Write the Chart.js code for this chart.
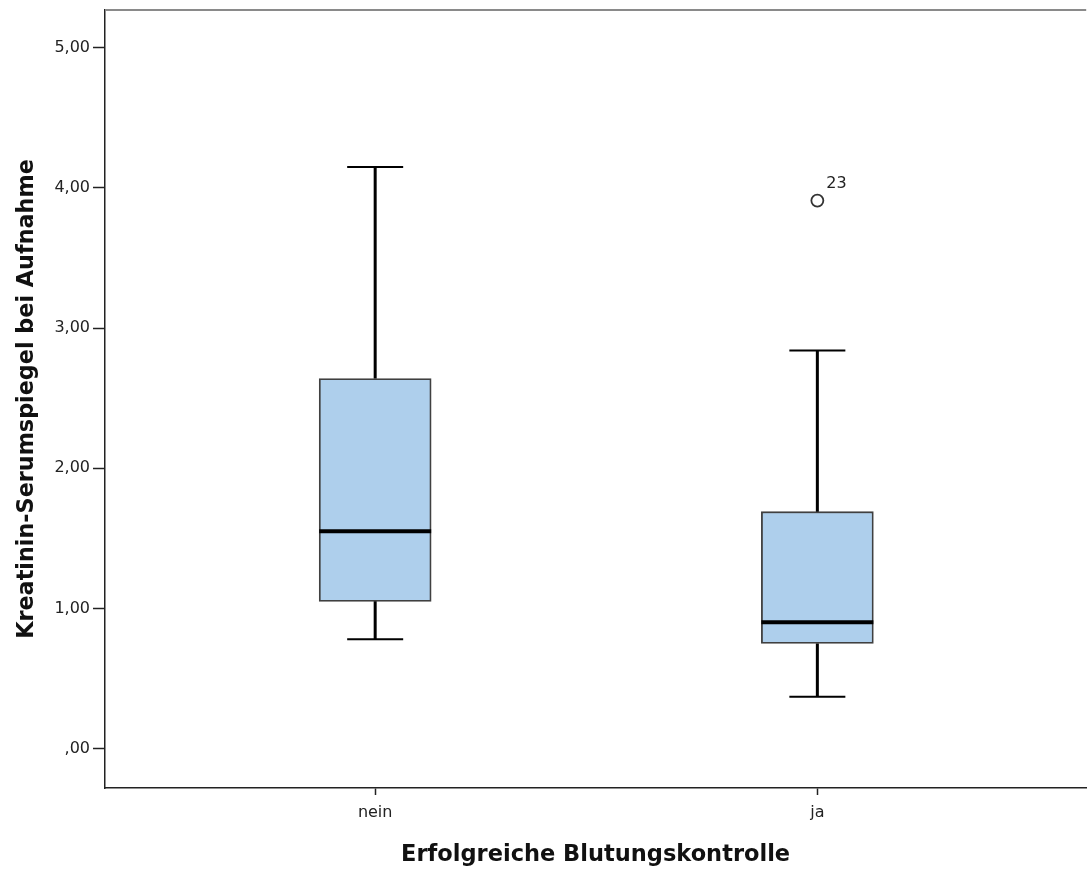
<!DOCTYPE html>
<html>
<head>
<meta charset="utf-8">
<title>Kreatinin-Serumspiegel bei Aufnahme</title>
<script src="https://cdn.jsdelivr.net/npm/chart.js@4/dist/chart.umd.min.js"></script>
<style>
  html, body { margin: 0; padding: 0; background: #ffffff; overflow: hidden; }
  canvas { display: block; }
</style>
</head>
<body>
<canvas id="chart" width="1094" height="870"></canvas>
<script>
// Groups and five-number summaries (Kreatinin in mg/dl)
const categories   = ['nein', 'ja'];
const whiskerLow   = [0.78, 0.37];
const q1           = [1.05, 0.75];
const median       = [1.55, 0.90];
const q3           = [2.64, 1.69];
const whiskerHigh  = [4.15, 2.84];

// Outliers: group, value, case number
const outlierGroup  = ['ja'];
const outlierValues = [3.91];
const outlierLabels = ['23'];

// Y axis tick values
const yTicks = [0, 1, 2, 3, 4, 5];

const FONT = '"DejaVu Sans", "Liberation Sans", Arial, sans-serif';

const boxData = categories.map((c, i) => ({ x: i + 1, y: [q1[i], q3[i]] }));
const outlierData = outlierValues.map((v, i) => ({
  x: categories.indexOf(outlierGroup[i]) + 1, y: v, label: outlierLabels[i]
}));

const fmtDe = v => v === 0 ? ',00' : v.toFixed(2).replace('.', ',');

// Whiskers, medians, outlier case numbers and the top frame line
const boxplotExtras = {
  id: 'boxplotExtras',
  afterDatasetsDraw(chart) {
    const { ctx, chartArea, scales: { x, y } } = chart;
    const boxes = chart.getDatasetMeta(0).data;
    ctx.save();
    ctx.strokeStyle = '#000000';
    ctx.lineCap = 'butt';
    categories.forEach((c, i) => {
      const bar = boxes[i];
      const cx = x.getPixelForValue(i + 1);
      const half = bar.width / 2;
      const yQ1 = y.getPixelForValue(q1[i]);
      const yQ3 = y.getPixelForValue(q3[i]);
      const yLo = y.getPixelForValue(whiskerLow[i]);
      const yHi = y.getPixelForValue(whiskerHigh[i]);
      const yMed = y.getPixelForValue(median[i]);
      // stems
      ctx.lineWidth = 3;
      ctx.beginPath();
      ctx.moveTo(cx, yQ3); ctx.lineTo(cx, yHi);
      ctx.moveTo(cx, yQ1); ctx.lineTo(cx, yLo);
      ctx.stroke();
      // caps
      ctx.lineWidth = 2;
      ctx.beginPath();
      ctx.moveTo(cx - half / 2, yHi); ctx.lineTo(cx + half / 2, yHi);
      ctx.moveTo(cx - half / 2, yLo); ctx.lineTo(cx + half / 2, yLo);
      ctx.stroke();
      // median
      ctx.lineWidth = 4;
      ctx.beginPath();
      ctx.moveTo(cx - half, yMed); ctx.lineTo(cx + half, yMed);
      ctx.stroke();
    });
    // case numbers next to outliers
    ctx.fillStyle = '#222222';
    ctx.font = '16px ' + FONT;
    ctx.textAlign = 'left';
    ctx.textBaseline = 'alphabetic';
    outlierData.forEach(p => {
      const px = x.getPixelForValue(p.x);
      const py = y.getPixelForValue(p.y);
      ctx.fillText(p.label, px + 9, py - 13);
    });
    // top frame line
    ctx.strokeStyle = '#8a8a8a';
    ctx.lineWidth = 2;
    ctx.beginPath();
    ctx.moveTo(chartArea.left, chartArea.top);
    ctx.lineTo(chartArea.right, chartArea.top);
    ctx.stroke();
    ctx.restore();
  }
};

new Chart(document.getElementById('chart'), {
  data: {
    datasets: [
      {
        type: 'bar',
        data: boxData,
        backgroundColor: '#aecfec',
        borderColor: '#404040',
        borderWidth: 1.8,
        borderSkipped: false,
        barThickness: 112
      },
      {
        type: 'scatter',
        data: outlierData,
        pointStyle: 'circle',
        pointRadius: 6,
        pointBackgroundColor: '#ffffff',
        pointBorderColor: '#333333',
        pointBorderWidth: 1.8
      }
    ]
  },
  options: {
    responsive: false,
    animation: false,
    layout: { padding: { top: 10, right: 0, left: 0, bottom: 0 } },
    plugins: {
      legend: { display: false },
      tooltip: { enabled: false }
    },
    scales: {
      x: {
        type: 'linear',
        offset: false,
        min: 0.389,
        max: 2.608,
        afterBuildTicks: s => { s.ticks = categories.map((c, i) => ({ value: i + 1 })); },
        afterFit: s => { s.height = 82; s.paddingLeft = 0; s.paddingRight = 0; },
        ticks: {
          callback: v => categories[v - 1] || '',
          color: '#222222',
          font: { family: FONT, size: 16 },
          padding: 8,
          maxRotation: 0,
          autoSkip: false
        },
        grid: { offset: false, drawOnChartArea: false, drawTicks: true, tickLength: 7, tickColor: '#222222', tickWidth: 1.5 },
        border: { display: true, color: '#222222', width: 1.5 },
        title: {
          display: true,
          text: 'Erfolgreiche Blutungskontrolle',
          color: '#111111',
          font: { family: FONT, size: 22.5, weight: 'bold' },
          padding: { top: 0, bottom: 1 }
        }
      },
      y: {
        type: 'linear',
        min: -0.282,
        max: 5.27,
        afterBuildTicks: s => { s.ticks = yTicks.map(v => ({ value: v })); },
        afterFit: s => { s.width = 105; s.paddingTop = 0; s.paddingBottom = 0; },
        ticks: {
          callback: v => fmtDe(v),
          color: '#222222',
          font: { family: FONT, size: 16 },
          padding: 3
        },
        grid: { drawOnChartArea: false, drawTicks: true, tickLength: 12, tickColor: '#222222', tickWidth: 1.5 },
        border: { display: true, color: '#222222', width: 1.5 },
        title: {
          display: true,
          text: 'Kreatinin-Serumspiegel bei Aufnahme',
          color: '#111111',
          font: { family: FONT, size: 22.3, weight: 'bold' },
          padding: { top: 14, bottom: 0 }
        }
      }
    }
  },
  plugins: [boxplotExtras]
});
</script>
</body>
</html>
